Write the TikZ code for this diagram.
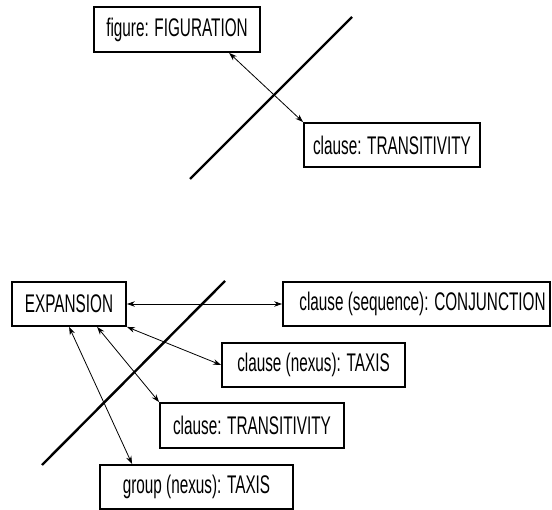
\documentclass[tikz,border=0pt]{standalone}
\usepackage{fontspec}
\setmainfont{Liberation Sans}
\usetikzlibrary{arrows.meta}
\newcommand{\cnd}[1]{\scalebox{0.6}[1]{#1}}
\tikzset{
  lbox/.style={draw=black, line width=1.8pt, inner sep=0pt, align=center,
    font=\fontsize{25.5}{29}\selectfont, minimum height=44pt},
  link/.style={line width=0.8pt, {Stealth[length=8pt,width=5.5pt]}-{Stealth[length=8pt,width=5.5pt]}},
  slash/.style={line width=2.4pt}
}
\begin{document}
\begin{tikzpicture}[x=1pt,y=-1pt]
\useasboundingbox (0,0) rectangle (552,510);
% top part
\node[lbox, minimum width=166pt, minimum height=45pt] (fig) at (177,29.5) {\cnd{figure: FIGURATION}};
\node[lbox, minimum width=176pt] (clT) at (392,145) {\cnd{clause: TRANSITIVITY}};
\coordinate (s1a) at (190,179);
\coordinate (s1b) at (352,17);
\draw[slash] (s1a) -- (s1b);
\draw[link] ([xshift=136pt]fig.south west) -- (clT.north west);
% bottom part
\node[lbox, minimum width=114pt] (exp) at (69,304) {\cnd{EXPANSION}};
\node[lbox, minimum width=267pt] (conj) at (416.5,304) {\hspace*{12pt}\cnd{clause (sequence): CONJUNCTION}};
\node[lbox, minimum width=183pt] (nex) at (313.5,365) {\cnd{clause (nexus): TAXIS}};
\node[lbox, minimum width=184pt, minimum height=45pt] (tr) at (252,425.5) {\cnd{clause: TRANSITIVITY}};
\node[lbox, minimum width=193pt] (grp) at (196.5,487) {\cnd{group (nexus): TAXIS}};
\coordinate (s2a) at (42,465);
\coordinate (s2b) at (225,281);
\draw[slash] (s2a) -- (s2b);
\draw[link] (exp.east) -- (conj.west);
\draw[link] (exp.south east) -- (nex.west);
\draw[link] ([xshift=86pt]exp.south west) -- (tr.north west);
\draw[link] ([xshift=58pt]exp.south west) -- ([xshift=33pt]grp.north west);
\end{tikzpicture}
\end{document}
